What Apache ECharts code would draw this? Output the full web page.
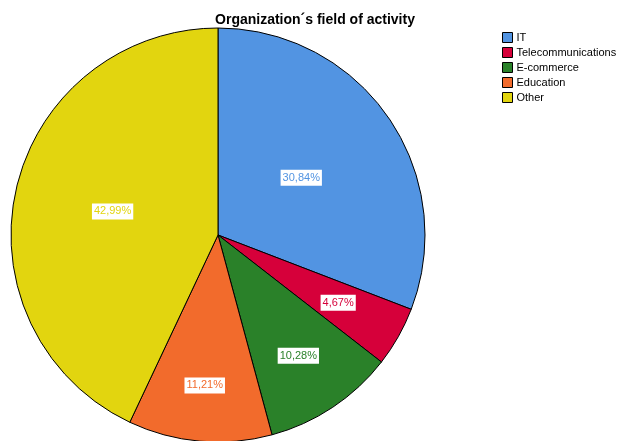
<!DOCTYPE html>
<html>
<head>
<meta charset="utf-8">
<script src="https://cdn.jsdelivr.net/npm/echarts@6/dist/echarts.min.js"></script>
<style>
  html, body { margin: 0; padding: 0; background: #fff; }
  #chart { width: 624px; height: 441px; }
</style>
</head>
<body>
<div id="chart"></div>
<script>
const categories = ['IT', 'Telecommunications', 'E-commerce', 'Education', 'Other'];
const percents = [30.84, 4.67, 10.28, 11.21, 42.99];
const colors = ['#5294e2', '#d6003a', '#2a8129', '#f26b2c', '#e2d50f'];
// distance of each label from the pie centre, in px
const labelRadius = [98, 135, 142, 148, 105];

const pieRadius = 207;
const total = percents.reduce((a, b) => a + b, 0);

const chart = echarts.init(document.getElementById('chart'));

let acc = 0;
const pieData = categories.map((name, i) => {
  const mid = (acc + percents[i] / 2) / total * Math.PI * 2;
  acc += percents[i];
  const shift = labelRadius[i] - pieRadius / 2;
  return {
    name: name,
    value: percents[i],
    itemStyle: { color: colors[i] },
    label: {
      color: colors[i],
      borderColor: colors[i],
      offset: [Math.sin(mid) * shift, -Math.cos(mid) * shift],
    },
  };
});

const options = {
  animation: false,
  title: {
    text: 'Organization\u00b4s field of activity',
    left: 310,
    textAlign: 'center',
    top: 8,
    textStyle: {
      fontFamily: 'Liberation Sans',
      fontSize: 14,
      fontWeight: 'bold',
      color: '#000',
    },
  },
  legend: {
    orient: 'vertical',
    left: 497,
    top: 27,
    itemWidth: 10,
    itemHeight: 10,
    itemGap: 4,
    icon: 'rect',
    data: categories,
    itemStyle: {
      borderColor: '#000',
      borderWidth: 1,
    },
    textStyle: {
      fontFamily: 'Liberation Sans',
      fontSize: 11,
      color: '#000',
      padding: [0, 0, 0, -1],
    },
  },
  series: [
    {
      type: 'pie',
      center: [218, 235],
      radius: pieRadius,
      startAngle: 90,
      clockwise: true,
      data: pieData,
      itemStyle: {
        borderColor: '#000',
        borderWidth: 1,
      },
      label: {
        show: true,
        position: 'inside',
        formatter: (p) => p.value.toFixed(2).replace('.', ',') + '%',
        fontFamily: 'Liberation Sans',
        fontSize: 11,
        backgroundColor: '#fff',
        borderWidth: 1,
        padding: [3, 2, 2, 2],
      },
      labelLine: { show: false },
      emphasis: { disabled: true },
    },
  ],
};

chart.setOption(options);
</script>
</body>
</html>
